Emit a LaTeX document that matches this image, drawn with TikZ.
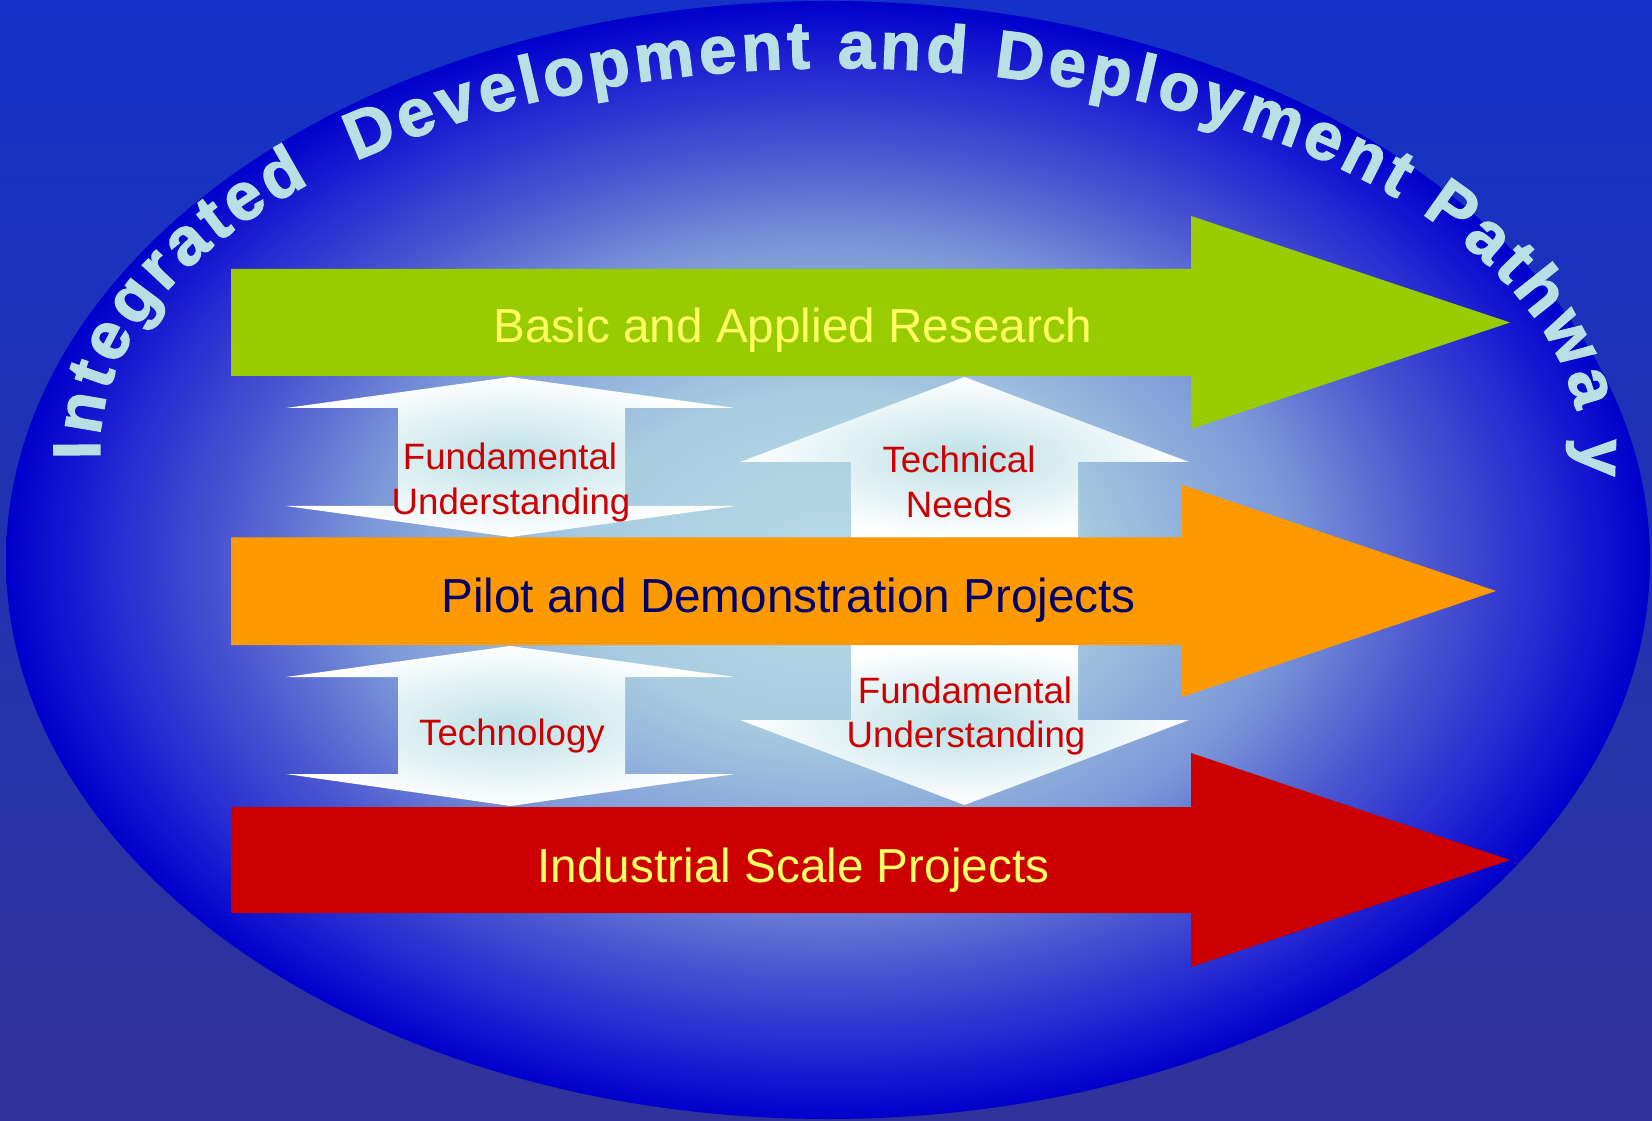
\documentclass[tikz,border=0pt]{standalone}
\usepackage{fontspec}
\setmainfont{Liberation Sans}
\newfontfamily\rimfamily[BoldFeatures={FakeBold=2}]{Liberation Sans}
\usetikzlibrary{decorations.text}
\definecolor{skytop}{RGB}{20,50,200}
\definecolor{skybot}{RGB}{48,51,153}
\definecolor{glowc}{RGB}{184,218,232}
\definecolor{glowa}{RGB}{168,204,224}
\definecolor{glowb}{RGB}{124,152,216}
\definecolor{glowd}{RGB}{76,88,208}
\definecolor{glowe}{RGB}{36,40,210}
\definecolor{rimblue}{RGB}{0,0,204}
\definecolor{arctext}{RGB}{184,224,228}
\definecolor{resgreen}{RGB}{153,204,0}
\definecolor{pilotorange}{RGB}{255,153,0}
\definecolor{indred}{RGB}{204,0,0}
\definecolor{labyellow}{RGB}{255,255,102}
\definecolor{labnavy}{RGB}{0,0,104}
\definecolor{labred}{RGB}{204,0,0}
\definecolor{shaftcyan}{RGB}{188,224,230}
\pgfdeclareradialshading{globe}{\pgfpoint{0bp}{0bp}}{color(0bp)=(glowc); color(7.5bp)=(glowa); color(14bp)=(glowb); color(18.25bp)=(glowd); color(22bp)=(glowe); color(25bp)=(rimblue); color(50bp)=(rimblue)}
\def\arcfont{\rimfamily\fontsize{33.5}{40}\selectfont\bfseries\color{arctext}}

\begin{document}
\begin{tikzpicture}[x=0.5pt,y=0.5pt,
  updown/.style={shade, inner color=shaftcyan, outer color=white},
  big/.style={anchor=base, inner sep=0pt, font=\fontsize{23.85}{28}\selectfont},
  tag/.style={anchor=base, inner sep=0pt, text=labred, font=\fontsize{18.35}{22}\selectfont}]
\useasboundingbox (0,0) rectangle (1652,1120);
%background and globe
\shade[top color=skytop, bottom color=skybot] (0,0) rectangle (1652,1120);
\shade[shading=globe] (828,560) ellipse [x radius=822, y radius=559];

%title on the rim
\path[decorate, decoration={text along path, text align={fit to path},
  text={|\arcfont|Integrated {\ }Development and Deployment Pathwa y}}]
  (100.2,660.7) arc [start angle=181.4, end angle=-3.8, x radius=740, y radius=382];

%links between bands
%left
\shade[updown] (510.5,743) -- (735,712) -- (625,712) -- (625,614) -- (735,614) -- (510.5,583) -- (286,614) -- (398,614) -- (398,712) -- (286,712) -- cycle;
\shade[updown] (510.5,474) -- (735,443) -- (625,443) -- (625,346) -- (735,346) -- (510.5,314) -- (286,346) -- (398,346) -- (398,443) -- (286,443) -- cycle;
%right
\shade[updown] (964.5,743) -- (1189,658) -- (1078,658) -- (1078,582.5) -- (851,582.5) -- (851,658) -- (740,658) -- cycle;
\shade[updown] (851,475) -- (1078,475) -- (1078,400) -- (1189,400) -- (964.5,315) -- (740,400) -- (851,400) -- cycle;

%bands
\fill[resgreen] (231,744) -- (231,851) -- (1191,851) -- (1191,904) -- (1510,797.5) -- (1191,691) -- (1191,744) -- cycle;
\fill[pilotorange] (231,475) -- (231,582.5) -- (1182,582.5) -- (1182,635) -- (1496,529) -- (1182,423) -- (1182,475) -- cycle;
\fill[indred] (231,207) -- (231,313) -- (1191,313) -- (1191,367) -- (1510,260) -- (1191,153) -- (1191,207) -- cycle;

%label
\node[big, text=labyellow] (research) at (793,777) {Basic and Applied Research};
\node[big, text=labnavy] (pilot) at (788.5,508) {Pilot and Demonstration Projects};
\node[big, text=labyellow] (industrial) at (793.5,238) {Industrial Scale Projects};
%upper
\node[tag] (fundup) at (510,650) {Fundamental};
\node[tag] (understup) at (511,605) {Understanding};
\node[tag] (technical) at (959,647) {Technical};
\node[tag] (needs) at (959,602) {Needs};
%lower
\node[tag] (technology) at (512,375) {Technology};
\node[tag] (funddown) at (965,417) {Fundamental};
\node[tag] (understdown) at (966,373) {Understanding};
\end{tikzpicture}
\end{document}
